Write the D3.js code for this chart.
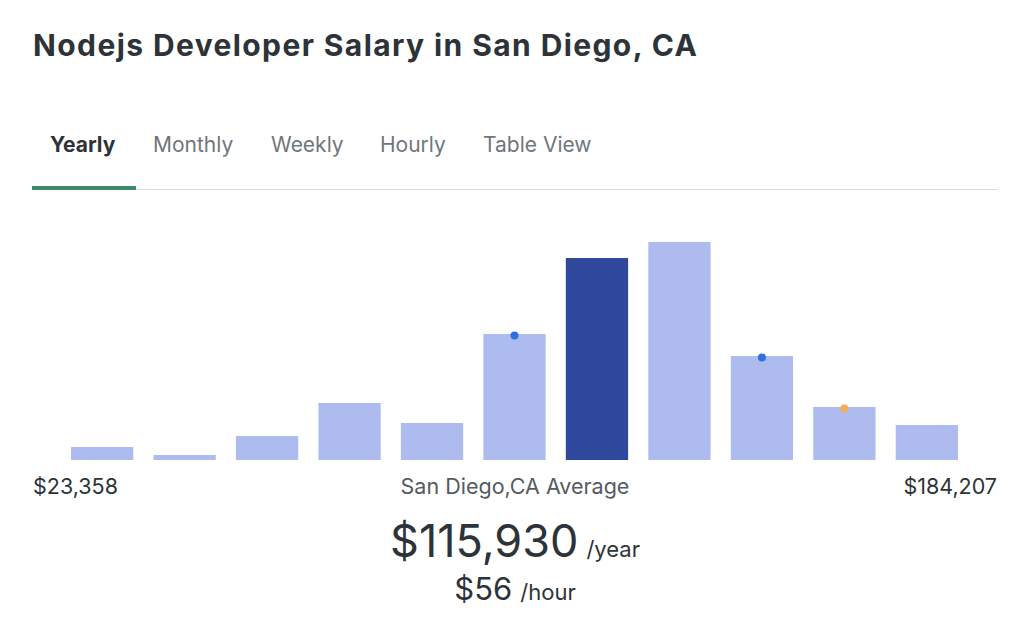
<!DOCTYPE html>
<html><head><meta charset="utf-8">
<script src="https://cdn.jsdelivr.net/npm/d3@7"></script>
<style>body{margin:0;background:#fff;font-family:Inter,"Open Sans",sans-serif}</style>
</head><body><svg id="c" width="1024" height="626"></svg>
<script>
const bins = d3.range(11).map(String);
const values = [13, 5, 24, 57, 37, 126, 202, 218, 104, 53, 35];
const highlight = 6;
const markers = [{bin:5,color:"#2f6fe0"},{bin:8,color:"#2f6fe0"},{bin:9,color:"#f4ad55"}];
const tabs = ["Yearly","Monthly","Weekly","Hourly","Table View"];
const tabX = [50,153,271,380,483];
const minLabel = "$23,358", maxLabel = "$184,207";

const svg = d3.select("#c");
svg.append("text").attr("x",33).attr("y",56).attr("font-size",30).attr("font-weight",700)
  .attr("letter-spacing",1.4).attr("fill","#2d3338").text("Nodejs Developer Salary in San Diego, CA");
tabs.forEach((t,i)=>svg.append("text").attr("x",tabX[i]).attr("y",152).attr("font-size",21)
  .attr("font-weight",i==0?700:400).attr("fill",i==0?"#2d3338":"#6f767d").text(t));
svg.append("rect").attr("x",32).attr("y",189).attr("width",965).attr("height",1).attr("fill","#d8dadc");
svg.append("rect").attr("x",32).attr("y",186).attr("width",104).attr("height",4).attr("fill","#3d8a66");

const x = d3.scaleBand().domain(bins).range([71,958]).paddingInner(0.245).paddingOuter(0);
const y = d3.scaleLinear().domain([0,218]).range([460,242]);
svg.selectAll(".b").data(values).join("rect")
  .attr("x",(d,i)=>x(bins[i])).attr("width",x.bandwidth())
  .attr("y",d=>y(d)).attr("height",d=>460-y(d))
  .attr("fill",(d,i)=>i==highlight?"#2f479c":"#adbbee");
svg.selectAll(".m").data(markers).join("circle")
  .attr("cx",d=>x(bins[d.bin])+x.bandwidth()/2).attr("cy",d=>y(values[d.bin])+1.5)
  .attr("r",4).attr("fill",d=>d.color);

const lab = (t,xx,a,yy,fs,c)=>svg.append("text").attr("x",xx).attr("y",yy).attr("text-anchor",a)
  .attr("font-size",fs).attr("fill",c||"#2d3338").text(t);
lab(minLabel,33,"start",494,21.5);
lab(maxLabel,997,"end",494,21.5);
lab("San Diego,CA Average",515,"middle",494,21.5,"#555b61");
const t1 = svg.append("text").attr("x",515).attr("y",557).attr("text-anchor","middle").attr("fill","#2d3338");
t1.append("tspan").attr("font-size",45).text("$115,930");
t1.append("tspan").attr("font-size",22).attr("dx",8).text("/year");
const t2 = svg.append("text").attr("x",515).attr("y",600).attr("text-anchor","middle").attr("fill","#2d3338");
t2.append("tspan").attr("font-size",31).text("$56");
t2.append("tspan").attr("font-size",22).attr("dx",8).text("/hour");
</script></body></html>
